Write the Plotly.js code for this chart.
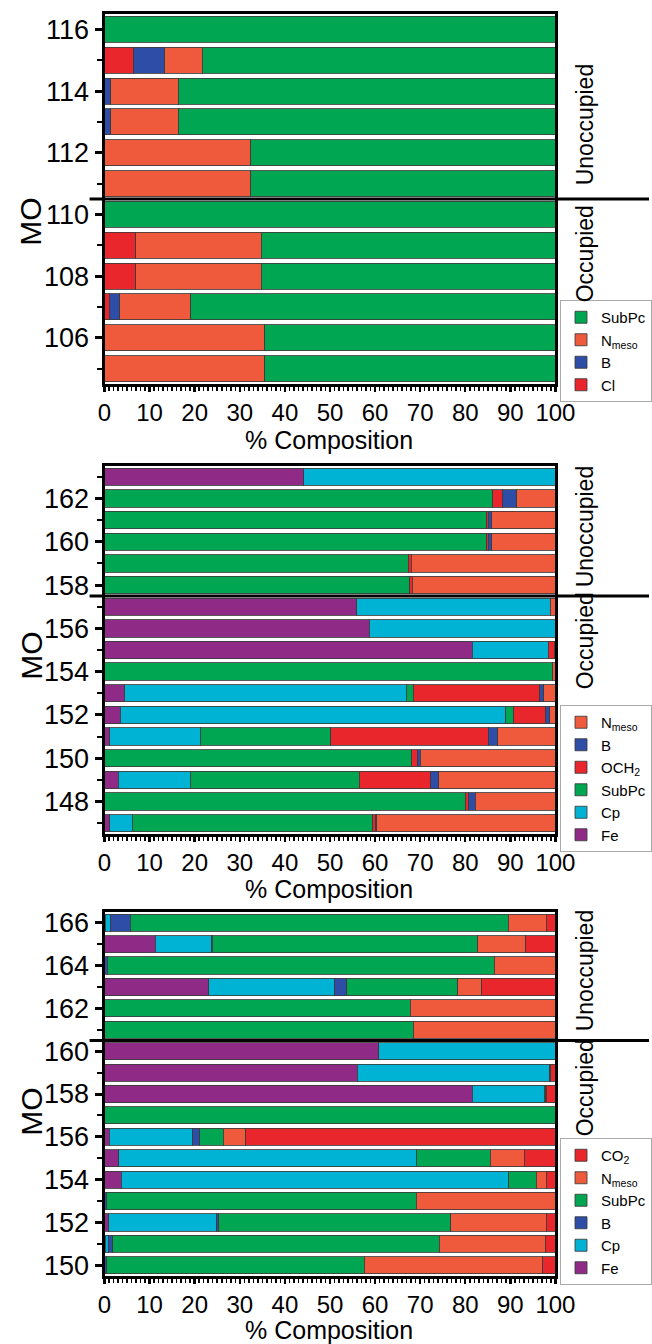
<!DOCTYPE html>
<html>
<head>
<meta charset="utf-8">
<script src="https://cdn.plot.ly/plotly-3.0.1.min.js"></script>
<style>html,body{margin:0;padding:0;background:#fff;}#chart{width:652px;height:1344px;}</style>
</head>
<body>
<div id="chart"></div>
<script>
// ---------- Panel 1 (SubPc-Cl) ----------
const mo1 = [105,106,107,108,109,110,111,112,113,114,115,116];
const p1_Cl    = [0,0,1.1,6.9,6.9,0,0,0,0,0,6.5,0];
const p1_B     = [0,0,2.3,0,0,0,0,0,1.4,1.4,6.9,0];
const p1_Nmeso = [35.5,35.5,15.7,27.9,27.9,0,32.4,32.4,14.9,14.9,8.3,0];
const p1_SubPc = [64.5,64.5,80.9,65.2,65.2,100,67.6,67.6,83.7,83.7,78.3,100];
const p1_ticks = [106,108,110,112,114,116];

// ---------- Panel 2 (Fc-OCH2) ----------
const mo2 = [147,148,149,150,151,152,153,154,155,156,157,158,159,160,161,162,163];
const p2_Fe    = [1.2,0,3.0,0,1.2,3.5,4.5,0,81.6,58.7,55.9,0,0,0,0,0,44.2];
const p2_Cp    = [4.9,0,16.0,0,20.0,85.5,62.4,0,16.8,41.3,43.0,0,0,0,0,0,55.8];
const p2_SubPc = [53.4,80.0,37.5,68.1,29.0,1.8,1.6,99.4,0,0,0,67.7,67.4,84.8,84.8,86.1,0];
const p2_OCH2  = [0.5,0.8,15.9,1.3,34.9,7.1,28.0,0,1.4,0,0,0.5,0.6,0.3,0.3,2.2,0];
const p2_B     = [0.4,1.4,1.7,0.6,2.1,0.8,0.9,0,0,0,0,0,0,0.8,0.8,3.1,0];
const p2_Nmeso = [39.6,17.8,25.9,30.0,12.8,1.3,2.6,0.6,0.2,0,1.1,31.8,32.0,14.1,14.1,8.6,0];
const p2_ticks = [148,150,152,154,156,158,160,162];

// ---------- Panel 3 (Fc-CO2) ----------
const mo3 = [150,151,152,153,154,155,156,157,158,159,160,161,162,163,164,165,166];
const p3_Fe    = [0,0.2,0.9,0,3.7,3.2,1.0,0,81.6,56.1,60.8,0,0,23.1,0,11.2,0.2];
const p3_Cp    = [0,0.6,24.0,0,86.0,65.9,18.6,0,15.9,42.6,39.2,0,0,28.0,0,12.5,1.2];
const p3_B     = [0.5,1.0,0.4,0.5,0,0,1.5,0,0,0,0,0,0,2.6,0.6,0.2,4.3];
const p3_SubPc = [57.1,72.4,51.5,68.6,6.0,16.4,5.2,100,0.3,0.3,0,68.5,67.8,24.6,85.8,58.9,83.8];
const p3_Nmeso = [39.6,23.5,21.2,30.9,2.3,7.6,5.0,0,0.2,0,0,31.5,32.2,5.4,13.6,10.6,8.5];
const p3_CO2   = [2.8,2.3,2.0,0,2.0,6.9,68.7,0,2.0,1.0,0,0,0,16.3,0,6.6,2.0];
const p3_ticks = [150,152,154,156,158,160,162,164,166];

const xTicks = [0,10,20,30,40,50,60,70,80,90,100];

const COL = {SubPc:'#00A651', Nmeso:'#EF5A3C', B:'#2E4DA6', Red:'#E8262B', Cp:'#00B2D3', Fe:'#902A87'};
const NMESO = 'N<sub>meso</sub>';

const W = 652, H = 1344;
const FONT = '"Liberation Sans", Arial, sans-serif';
const py = v => 1 - v / H;
const px = v => v / W;

function bar(name, vals, cats, color, ax, leg) {
  return {
    type: 'bar', orientation: 'h', name: name,
    x: vals.map(v => v > 0 ? v : null), y: cats,
    xaxis: 'x' + (ax === 1 ? '' : ax), yaxis: 'y' + (ax === 1 ? '' : ax),
    legend: leg, width: ax === 1 ? 0.84 : 0.8,
    marker: {color: color, line: {color: 'rgba(60,60,60,0.85)', width: 1}},
    hoverinfo: 'skip'
  };
}

const data = [
  bar('Cl', p1_Cl, mo1, COL.Red, 1, 'legend'),
  bar('B', p1_B, mo1, COL.B, 1, 'legend'),
  bar(NMESO, p1_Nmeso, mo1, COL.Nmeso, 1, 'legend'),
  bar('SubPc', p1_SubPc, mo1, COL.SubPc, 1, 'legend'),

  bar('Fe', p2_Fe, mo2, COL.Fe, 2, 'legend2'),
  bar('Cp', p2_Cp, mo2, COL.Cp, 2, 'legend2'),
  bar('SubPc', p2_SubPc, mo2, COL.SubPc, 2, 'legend2'),
  bar('OCH<sub>2</sub>', p2_OCH2, mo2, COL.Red, 2, 'legend2'),
  bar('B', p2_B, mo2, COL.B, 2, 'legend2'),
  bar(NMESO, p2_Nmeso, mo2, COL.Nmeso, 2, 'legend2'),

  bar('Fe', p3_Fe, mo3, COL.Fe, 3, 'legend3'),
  bar('Cp', p3_Cp, mo3, COL.Cp, 3, 'legend3'),
  bar('B', p3_B, mo3, COL.B, 3, 'legend3'),
  bar('SubPc', p3_SubPc, mo3, COL.SubPc, 3, 'legend3'),
  bar(NMESO, p3_Nmeso, mo3, COL.Nmeso, 3, 'legend3'),
  bar('CO<sub>2</sub>', p3_CO2, mo3, COL.Red, 3, 'legend3')
];

function xAxis(anchor) {
  return {
    domain: [px(105), px(558)], anchor: anchor, range: [0, 100],
    tickvals: xTicks, ticks: 'outside', ticklen: 5, tickwidth: 2.5, tickcolor: '#000',
    minor: {ticks: 'outside', dtick: 1, ticklen: 4, tickwidth: 1.5, tickcolor: '#000'},
    showline: true, linewidth: 3, linecolor: '#000', mirror: true,
    showgrid: false, zeroline: false, fixedrange: true,
    tickfont: {family: FONT, size: 24, color: '#000'}
  };
}
function yAxis(anchor, dom, rng, ticks) {
  return {
    domain: dom, anchor: anchor, range: rng,
    tickvals: ticks, ticks: 'outside', ticklen: 7, tickwidth: 3, tickcolor: '#000',
    minor: {ticks: 'outside', dtick: 1, tick0: 0, ticklen: 5, tickwidth: 2, tickcolor: '#000'},
    showline: true, linewidth: 3, linecolor: '#000', mirror: true,
    showgrid: false, zeroline: false, fixedrange: true,
    tickfont: {family: FONT, size: 27, color: '#000'}
  };
}

function sideLabel(text, yPix) {
  return {xref: 'paper', yref: 'paper', x: px(588), y: py(yPix), text: text, textangle: -90,
    showarrow: false, font: {family: FONT, size: 23, color: '#000'}, xanchor: 'center', yanchor: 'middle'};
}
function moLabel(yPix) {
  return {xref: 'paper', yref: 'paper', x: px(31), y: py(yPix), text: 'MO', textangle: -90,
    showarrow: false, font: {family: FONT, size: 30, color: '#000'}, xanchor: 'center', yanchor: 'middle'};
}
function xTitle(yPix) {
  return {xref: 'paper', yref: 'paper', x: px(331), y: py(yPix), text: '% Composition',
    showarrow: false, font: {family: FONT, size: 25, color: '#000'}, xanchor: 'center', yanchor: 'middle'};
}
function divider(yref, yv) {
  return {type: 'line', xref: 'paper', yref: yref, x0: px(90), x1: 1, y0: yv, y1: yv,
    line: {color: '#000', width: 3}};
}
function legendBox(yPix) {
  return {x: px(563), y: py(yPix), xanchor: 'left', yanchor: 'top', traceorder: 'reversed',
    bgcolor: '#fff', bordercolor: '#aaa', borderwidth: 1, itemwidth: 30,
    font: {family: FONT, size: 15, color: '#000'}, tracegroupgap: 0};
}

const layout = {
  width: W, height: H, margin: {l: 0, r: 0, t: 0, b: 0},
  paper_bgcolor: '#fff', plot_bgcolor: '#fff',
  barmode: 'stack', bargap: 0.2, showlegend: true,
  xaxis: xAxis('y'), xaxis2: xAxis('y2'), xaxis3: xAxis('y3'),
  yaxis: yAxis('x', [py(384), py(14)], [104.5, 116.5], p1_ticks),
  yaxis2: yAxis('x2', [py(834), py(466)], [146.5, 163.5], p2_ticks),
  yaxis3: yAxis('x3', [py(1276), py(912)], [149.5, 166.5], p3_ticks),
  legend: legendBox(300), legend2: legendBox(705), legend3: legendBox(1138),
  shapes: [divider('y', 110.5), divider('y2', 157.5), divider('y3', 160.5)],
  annotations: [
    moLabel(222), moLabel(656), moLabel(1112),
    xTitle(440), xTitle(889), xTitle(1330),
    sideLabel('Unoccupied', 125), sideLabel('Occupied', 254),
    sideLabel('Unoccupied', 527), sideLabel('Occupied', 641),
    sideLabel('Unoccupied', 971), sideLabel('Occupied', 1088)
  ]
};

Plotly.newPlot('chart', data, layout, {displayModeBar: false, staticPlot: true});
</script>
</body>
</html>
